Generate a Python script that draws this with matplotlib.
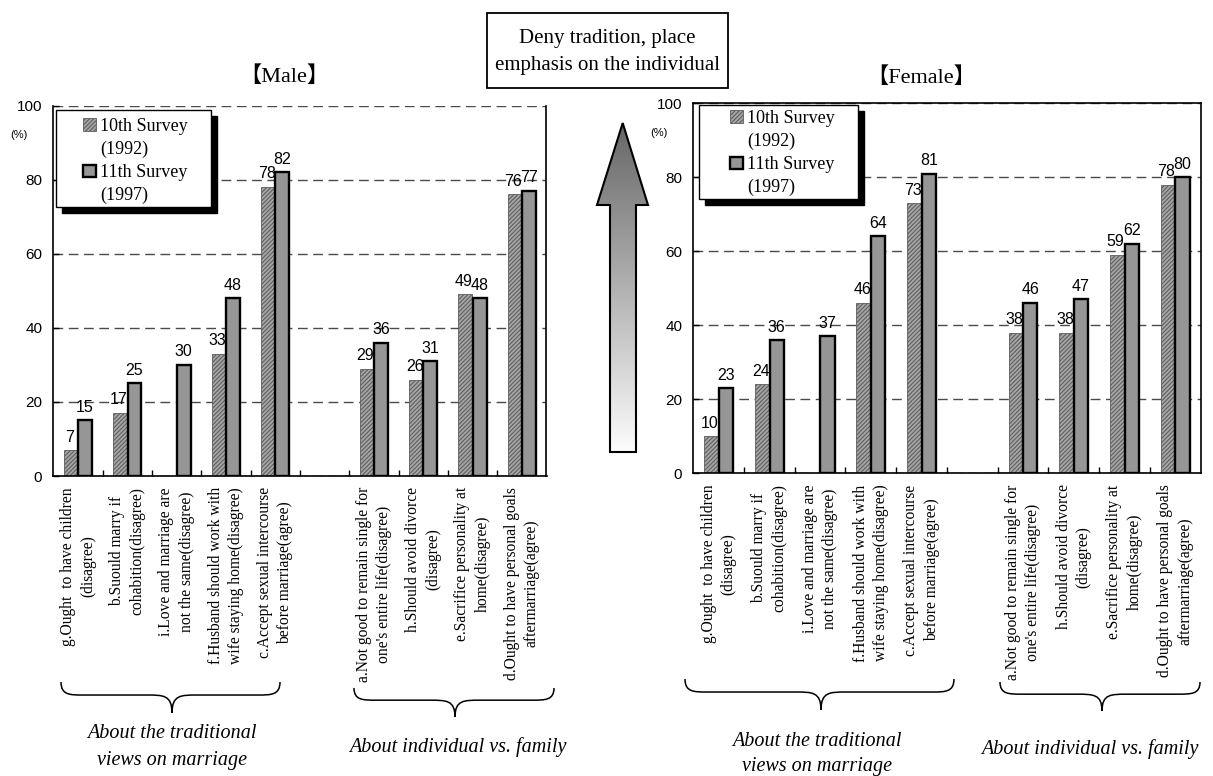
import numpy as np
import matplotlib
matplotlib.use("Agg")
import matplotlib.pyplot as plt
from matplotlib.patches import Rectangle, Polygon, Patch, PathPatch
from matplotlib.path import Path

# --- data -------------------------------------------------------------
categories = [
    "g.Ought  to have children\n(disagree)",
    "b.Suould marry if\ncohabition(disagree)",
    "i.Love and marriage are\nnot the same(disagree)",
    "f.Husband should work with\nwife staying home(disagree)",
    "c.Accept sexual intercourse\nbefore marriage(agree)",
    "a.Not good to remain single for\none's entire life(disagree)",
    "h.Should avoid divorce\n(disagree)",
    "e.Sacrifice personality at\nhome(disagree)",
    "d.Ought to have personal goals\naftermarriage(agree)",
]
# slot index of each category (slot 5 is the gap between the two groups)
slots = [0, 1, 2, 3, 4, 6, 7, 8, 9]

male_1992 = [7, 17, None, 33, 78, 29, 26, 49, 76]
male_1997 = [15, 25, 30, 48, 82, 36, 31, 48, 77]
female_1992 = [10, 24, None, 46, 73, 38, 38, 59, 78]
female_1997 = [23, 36, 37, 64, 81, 46, 47, 62, 80]

series_names = ["10th Survey", "(1992)", "11th Survey", "(1997)"]
group_names = ["About the traditional\nviews on marriage", "About individual vs. family"]
panel_titles = ["\u3010Male\u3011", "\u3010Female\u3011"]
box_text = "Deny tradition, place\nemphasis on the individual"
yticks = [0, 20, 40, 60, 80, 100]

# --- style -------------------------------------------------------------
W, H = 1213, 776
SERIF = ["Liberation Serif", "Noto Sans CJK JP"]
SANS = "Liberation Sans"
plt.rcParams["hatch.linewidth"] = 0.8

c_old_face = "#a6a6a6"
c_old_edge = "#5e5e5e"
c_new_face = "#969696"

fig = plt.figure(figsize=(W / 100, H / 100), dpi=100)


def fig_rect(x0, y0, x1, y1):
    # pixel box (top-left origin) -> figure fraction rect
    return [x0 / W, 1 - y1 / H, (x1 - x0) / W, (y1 - y0) / H]


def draw_panel(rect, v_old, v_new, dashed_top):
    ax = fig.add_axes(rect)
    bw = 0.28
    off = 0.145
    xo = [s - off for s, v in zip(slots, v_old) if v is not None]
    yo = [v for v in v_old if v is not None]
    xn = [s + off for s in slots]
    ax.bar(xo, yo, width=bw, facecolor=c_old_face, edgecolor=c_old_edge,
           hatch="////////", linewidth=0.6, zorder=2)
    ax.bar(xn, v_new, width=bw, facecolor=c_new_face, edgecolor="black",
           linewidth=1.7, zorder=3)
    for x, v in zip(xo, yo):
        ax.annotate(str(v), (x, v), xytext=(-1, 4), textcoords="offset points",
                    ha="center", va="bottom", fontsize=11.5, family=SANS)
    for x, v in zip(xn, v_new):
        ax.annotate(str(v), (x, v), xytext=(0, 4), textcoords="offset points",
                    ha="center", va="bottom", fontsize=11.5, family=SANS)

    ax.set_xlim(-0.5, 9.5)
    ax.set_ylim(0, 100)
    ax.set_yticks(yticks)
    ax.set_yticklabels([str(t) for t in yticks], family=SANS, fontsize=11)
    ax.set_xticks(np.arange(0.5, 9, 1))
    ax.set_xticklabels([])
    ax.tick_params(axis="both", direction="in", length=4, width=1, pad=8)
    ax.yaxis.grid(True, linestyle=(0, (7, 4)), color="#4a4a4a", linewidth=1)
    ax.set_axisbelow(True)
    for sp in ax.spines.values():
        sp.set_linewidth(1.2)
    if dashed_top:
        ax.spines["top"].set_visible(False)

    # (%) unit label
    ax.annotate("(%)", (0, 92), xycoords=("axes fraction", "data"),
                xytext=(-25, 0), textcoords="offset points",
                ha="center", va="center", fontsize=8, family=SANS)

    # rotated category labels
    for s, lab in zip(slots, categories):
        ax.annotate(lab, (s, 0), xycoords=("data", "axes fraction"),
                    xytext=(0, -8), textcoords="offset points",
                    rotation=90, ha="center", va="top", multialignment="center",
                    fontsize=11.2, family=SERIF, linespacing=1.35)
    return ax


ax_m = draw_panel(fig_rect(53.3, 105.5, 546.5, 476.0), male_1992, male_1997, True)
ax_f = draw_panel(fig_rect(693.3, 103.2, 1200.5, 473.3), female_1992, female_1997, False)

# --- overlay in pixel coordinates for the decorations --------------------
ov = fig.add_axes([0, 0, 1, 1], zorder=3)
ov.axis("off")

# titles
ov.text(284, 77, panel_titles[0], ha="center", va="center", fontsize=16, family=SERIF)
ov.text(921.5, 78, panel_titles[1], ha="center", va="center", fontsize=16, family=SERIF)

# top box
ov.add_patch(Rectangle((487, 13), 241, 75, facecolor="white", edgecolor="black", lw=1.3))
ov.text(607.5, 52, box_text, ha="center", va="center", fontsize=15,
        family=SERIF, linespacing=1.6)

# gradient arrow
arrow_pts = [(622.7, 123), (648, 205), (636, 205), (636, 452),
             (610, 452), (610, 205), (597, 205)]
arrow = Polygon(arrow_pts, closed=True, facecolor="none", edgecolor="black",
                lw=1.5, zorder=2)
ov.add_patch(arrow)
shade = np.linspace(0.40, 0.99, 300)[:, None]
grad = np.dstack([shade, shade, shade]).repeat(2, axis=1)
im = ov.imshow(grad, extent=(597, 648, 452, 123), aspect="auto", zorder=1,
               interpolation="bilinear")
im.set_clip_path(arrow)
ov.set_xlim(0, W)
ov.set_ylim(H, 0)

# legend frames with shadow
for x0, y0, x1, y1 in [(56, 110, 211, 207), (699, 105, 858, 199)]:
    ov.add_patch(Rectangle((x0 + 6, y0 + 6), x1 - x0, y1 - y0, facecolor="black",
                           edgecolor="black", lw=1))
    ov.add_patch(Rectangle((x0, y0), x1 - x0, y1 - y0, facecolor="white",
                           edgecolor="black", lw=1))

handles = [Patch(facecolor=c_old_face, edgecolor=c_old_edge, hatch="////////", lw=0.6),
           Patch(facecolor="none", edgecolor="none"),
           Patch(facecolor=c_new_face, edgecolor="black", lw=1.7),
           Patch(facecolor="none", edgecolor="none")]
for ax_x, ax_y in [(83, 118), (730, 110)]:
    leg = fig.legend(handles, series_names, loc="upper left",
                     bbox_to_anchor=(ax_x / W, 1 - ax_y / H),
                     frameon=False, borderpad=0, borderaxespad=0,
                     handlelength=0.7, handleheight=0.7, handletextpad=0.25,
                     labelspacing=0.33, prop={"family": SERIF, "size": 13})
    leg.set_zorder(10)


# curly braces
def brace(x0, x1, xc, ytop, ybot):
    ymid = ytop + 0.42 * (ybot - ytop)
    q1 = 22
    q2 = 25
    verts = [(x0, ytop), (x0, ymid), (x0 + q1 * 0.4, ymid), (x0 + q1, ymid),
             (xc - q2, ymid),
             (xc - q2 * 0.35, ymid), (xc, ymid), (xc, ybot),
             (xc, ymid), (xc + q2 * 0.35, ymid), (xc + q2, ymid),
             (x1 - q1, ymid),
             (x1 - q1 * 0.4, ymid), (x1, ymid), (x1, ytop)]
    codes = [Path.MOVETO, Path.CURVE4, Path.CURVE4, Path.CURVE4,
             Path.LINETO,
             Path.CURVE4, Path.CURVE4, Path.CURVE4,
             Path.CURVE4, Path.CURVE4, Path.CURVE4,
             Path.LINETO,
             Path.CURVE4, Path.CURVE4, Path.CURVE4]
    ov.add_patch(PathPatch(Path(verts, codes), facecolor="none", edgecolor="black", lw=1.1))


brace(61, 280, 172, 682, 713)
brace(354, 554, 455, 688, 717)
brace(685, 954, 821, 679, 710)
brace(1000, 1200, 1102, 682, 711)

ov.text(172, 747, group_names[0], ha="center", va="center", fontsize=14.5,
        style="italic", family=SERIF, linespacing=1.5)
ov.text(458, 747, group_names[1], ha="center", va="center", fontsize=14.5,
        style="italic", family=SERIF)
ov.text(817, 754, group_names[0], ha="center", va="center", fontsize=14.5,
        style="italic", family=SERIF, linespacing=1.45)
ov.text(1090, 749, group_names[1], ha="center", va="center", fontsize=14.5,
        style="italic", family=SERIF)

fig.savefig("out.png", dpi=100, facecolor="white")
